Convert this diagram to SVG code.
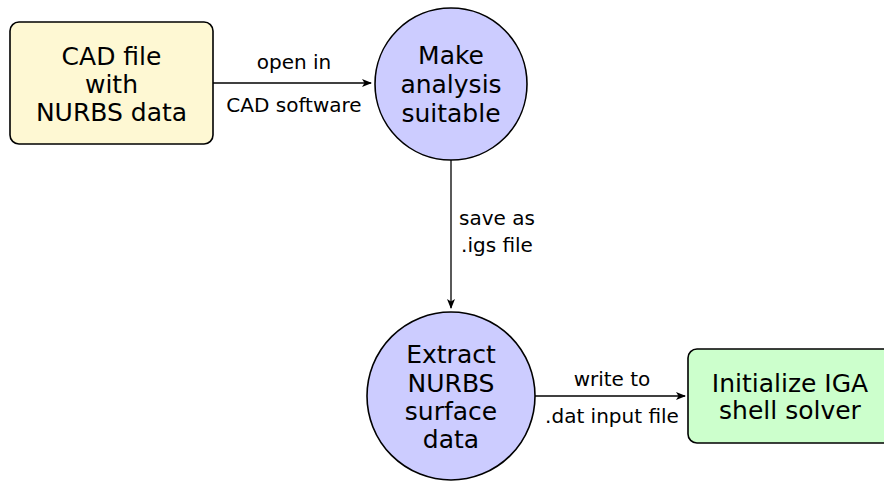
<svg xmlns="http://www.w3.org/2000/svg" width="884" height="481" viewBox="0 0 884 481">
<style>
.node { stroke: #000; stroke-width: 1.6; }
.nt { font-family: "DejaVu Sans", "Liberation Sans", sans-serif; font-size: 25px; text-anchor: middle; fill: #000; }
.et { font-family: "DejaVu Sans", "Liberation Sans", sans-serif; font-size: 20px; text-anchor: middle; fill: #000; }
.edge { stroke: #000; stroke-width: 1.3; fill: none; marker-end: url(#arr); }
</style>
<defs>
<marker id="arr" viewBox="0 0 10 8" refX="9" refY="4" markerWidth="10" markerHeight="8" markerUnits="userSpaceOnUse" orient="auto">
<path d="M0,0 L10,4 L0,8 L2.5,4 Z" fill="#000"/>
</marker>
</defs>
<rect width="884" height="481" fill="#fff"/>
<g id="connectors">
<line class="edge" x1="213" y1="83" x2="371" y2="83"/>
<line class="edge" x1="451" y1="160" x2="451" y2="308"/>
<line class="edge" x1="535" y1="396" x2="685" y2="396"/>
<text class="et" x="294" y="69">open in</text>
<text class="et" x="294" y="112">CAD software</text>
<text class="et" x="497" y="225">save as</text>
<text class="et" x="497" y="252">.igs file</text>
<text class="et" x="612" y="386">write to</text>
<text class="et" x="612" y="423">.dat input file</text>
</g>
<g id="cad">
<rect class="node" x="10" y="22" width="203" height="122" rx="9" fill="#FEF8D3"/>
<text class="nt" x="111.5" y="65">CAD file</text>
<text class="nt" x="111.5" y="93">with</text>
<text class="nt" x="111.5" y="121">NURBS data</text>
</g>
<g id="make">
<circle class="node" cx="451" cy="84" r="76" fill="#CCCCFF"/>
<text class="nt" x="451" y="64">Make</text>
<text class="nt" x="451" y="93">analysis</text>
<text class="nt" x="451" y="122">suitable</text>
</g>
<g id="extract">
<circle class="node" cx="451" cy="396" r="84" fill="#CCCCFF"/>
<text class="nt" x="451" y="363">Extract</text>
<text class="nt" x="451" y="391.5">NURBS</text>
<text class="nt" x="451" y="419.5">surface</text>
<text class="nt" x="451" y="447.5">data</text>
</g>
<g id="init">
<rect class="node" x="688" y="349" width="206" height="94" rx="9" fill="#CCFFCC"/>
<text class="nt" x="790" y="391.5">Initialize IGA</text>
<text class="nt" x="790" y="419">shell solver</text>
</g>
</svg>
